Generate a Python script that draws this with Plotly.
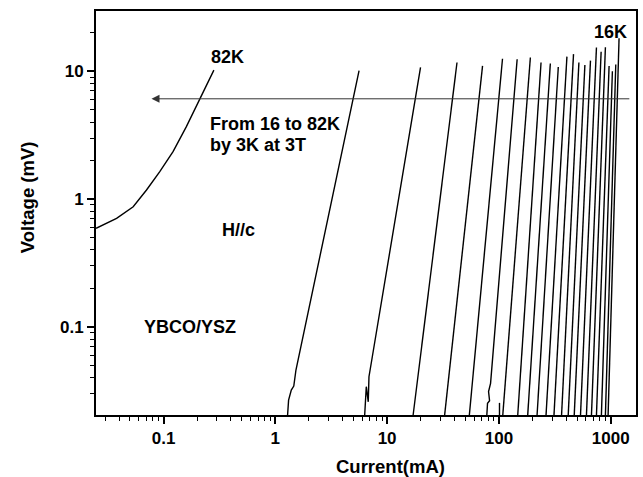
import math
import plotly.graph_objects as go

# ---- data ----
# 82 K curve (current in mA, voltage in mV)
I_82K = [0.0249, 0.0380, 0.0535, 0.0704, 0.0925, 0.1216, 0.160, 0.210, 0.282]
V_82K = [0.590, 0.706, 0.870, 1.176, 1.635, 2.345, 3.68, 5.95, 10.2]

# 16 K ... 79 K curves (nearly straight in log-log)
temperatures = [79, 76, 73, 70, 67, 64, 61, 58, 55, 52, 49, 46, 43, 40, 37, 34, 31, 28, 25, 22, 19, 16]
I_bottom = [1.287, 6.30, 17.09, 32.7, 54.4, 78.0, 108.3, 147.4, 181, 219.5, 264, 311,
            363.6, 417, 472, 537, 607, 673, 746, 826, 897, 948]
V_bottom = 0.0204
I_top = [5.61, 19.9, 42.2, 71.4, 107.7, 145.6, 191.2, 238.2, 288.4, 339.8, 406, 465,
         519.5, 587.7, 659.4, 745.7, 821, 897, 967.6, 1035.6, 1110.5, 1188]
V_top = [10.1, 10.7, 11.7, 11.0, 12.5, 12.4, 12.8, 11.7, 11.5, 10.8, 13.0, 13.6,
         11.7, 11.2, 12.1, 15.3, 14.2, 15.4, 11.0, 10.0, 11.3, 18.1]

# low-voltage kinks seen on some curves
I_kink_79K = [1.314, 1.389, 1.462, 1.529]
V_kink_79K = [0.0267, 0.032, 0.0344, 0.0459]
I_kink_76K = [6.51, 6.78, 6.88, 7.37]
V_kink_76K = [0.034, 0.0259, 0.0407, 0.0583]
I_kink_64K = [79.1, 82.5, 80.8, 84.2]
V_kink_64K = [0.0252, 0.0264, 0.0311, 0.0361]
I_glitch = [101.2, 101.2]
V_glitch = [0.0204, 0.0254]

# arrow "from 16 to 82 K"
arrow_I_start = 1514
arrow_I_end = 0.078
arrow_V = 6.08

x_tick_vals = [0.1, 1, 10, 100, 1000]
x_tick_text = ["0.1", "1", "10", "100", "1000"]
y_tick_vals = [0.1, 1, 10]
y_tick_text = ["0.1", "1", "10"]

kinks = {79: (I_kink_79K, V_kink_79K), 76: (I_kink_76K, V_kink_76K), 64: (I_kink_64K, V_kink_64K)}

# ---- figure ----
FONT = "Liberation Sans, Arial, sans-serif"
line_style = dict(color="black", width=1.4)

fig = go.Figure()
fig.add_trace(go.Scatter(x=I_82K, y=V_82K, mode="lines", line=line_style,
                         name="82K", showlegend=False, hoverinfo="skip"))
for k, T in enumerate(temperatures):
    xs = [I_bottom[k]]
    ys = [V_bottom]
    if T in kinks:
        xs += kinks[T][0]
        ys += kinks[T][1]
    xs.append(I_top[k])
    ys.append(V_top[k])
    fig.add_trace(go.Scatter(x=xs, y=ys, mode="lines", line=line_style,
                             name=f"{T}K", showlegend=False, hoverinfo="skip"))
fig.add_trace(go.Scatter(x=I_glitch, y=V_glitch, mode="lines", line=line_style,
                         showlegend=False, hoverinfo="skip"))

minor_vals = [m * 10 ** e for e in range(-2, 4) for m in range(2, 10)]

axis_common = dict(
    type="log", showgrid=False, zeroline=False,
    showline=True, linecolor="black", linewidth=1.8, mirror=True,
    ticks="outside", ticklen=7, tickwidth=1.5, tickcolor="black",
    tickfont=dict(family=FONT, size=17, color="black", weight="bold"),
    tickmode="array",
    minor=dict(ticks="outside", ticklen=4, tickwidth=1.2, tickcolor="black",
               tickmode="array", tickvals=minor_vals, showgrid=False),
)

fig.update_xaxes(**axis_common, range=[-1.6043, 3.2264],
                 tickvals=x_tick_vals, ticktext=x_tick_text)
fig.update_yaxes(**axis_common, range=[-1.6901, 1.4710],
                 tickvals=y_tick_vals, ticktext=y_tick_text)

txt = dict(family=FONT, size=18, color="black", weight="bold")
ttl = dict(family=FONT, size=18.5, color="black", weight="bold")


def label(text, x, y, xanchor="center", font=txt, **kw):
    return dict(text=text, xref="paper", yref="paper", x=x, y=y, xanchor=xanchor,
                yanchor="middle", showarrow=False, font=font, **kw)


ann = [
    label("82K", 0.2435, 0.886),
    label("16K", 0.952, 0.948),
    label("From 16 to 82K", 0.2066, 0.721, xanchor="left"),
    label("by 3K at 3T", 0.2066, 0.668, xanchor="left"),
    label("H//c", 0.264, 0.458),
    label("YBCO/YSZ", 0.1734, 0.218),
    label("Current(mA)", 0.546, -0.1287, font=ttl),
    label("Voltage (mV)", -0.127, 0.54, font=ttl, textangle=-90),
    dict(text="", x=math.log10(arrow_I_end), y=math.log10(arrow_V),
         ax=math.log10(arrow_I_start), ay=math.log10(arrow_V),
         xref="x", yref="y", axref="x", ayref="y",
         showarrow=True, arrowhead=2, arrowsize=1.6, arrowwidth=1, arrowcolor="#333333"),
]

fig.update_layout(
    width=643, height=477,
    margin=dict(l=96, r=5, t=11, b=62),
    paper_bgcolor="white", plot_bgcolor="white",
    annotations=ann, showlegend=False,
)

fig.write_html("out.html", config={"displayModeBar": False},
               post_script="document.body.style.margin='0';document.body.style.overflow='hidden';")
